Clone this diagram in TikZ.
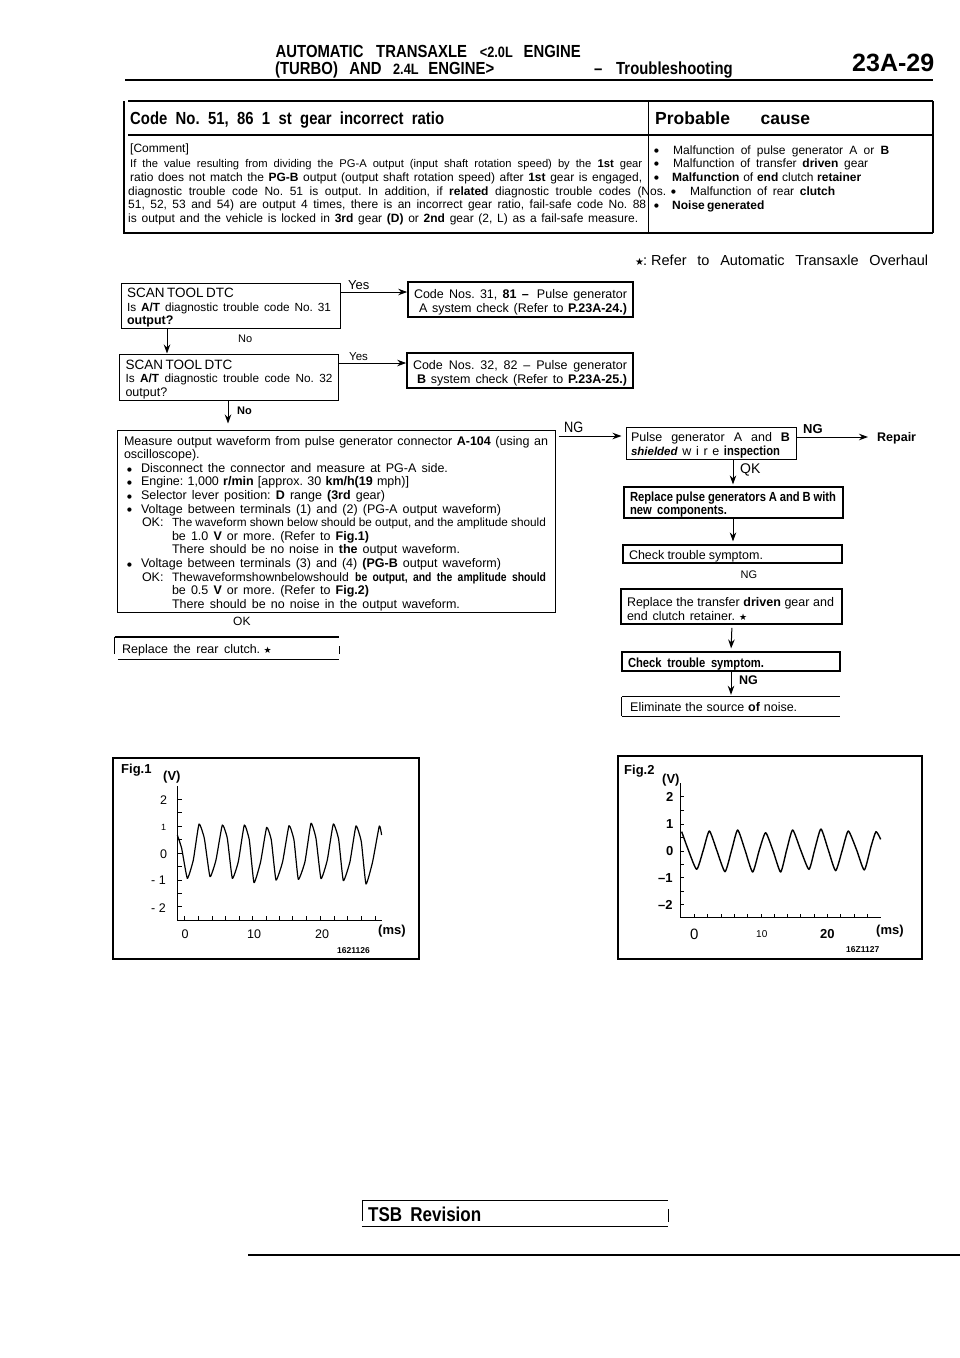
\documentclass[tikz,border=0pt]{standalone}
\usepackage{fontspec}
\usepackage{tikz}
\setmainfont{Liberation Sans}
\newfontfamily\narrowfont[FakeStretch=0.85]{Liberation Sans}
\newfontfamily\symbfont{DejaVu Sans}
\usetikzlibrary{arrows.meta, positioning}
\newcommand{\fitline}[2]{\makebox[#1pt][s]{\frenchspacing\spaceskip=0pt\xspaceskip=0pt #2}}
\newcommand{\bigdot}{\raisebox{1.2pt}{\symbfont\fontsize{5.5}{5.5}\selectfont ●}}
\newcommand{\bulline}[2]{\hspace*{3pt}\makebox[14pt][l]{\bigdot}\fitline{#1}{#2}}
\newcommand{\staricon}{{\symbfont\fontsize{9}{9}\selectfont ★}}
\newcommand{\smallbody}{\fontsize{11.8}{13.6}\selectfont}
\newcommand{\largebody}{\fontsize{13.5}{13.6}\selectfont}
\newcommand{\narrowbold}{\narrowfont\bfseries\fontsize{13.2}{13.6}\selectfont}

\begin{document}
\begin{tikzpicture}[
    x=1pt, y=-1pt,
    box/.style={draw, line width=1pt, inner xsep=6pt, inner ysep=0pt, align=left, font=\fontsize{12.5}{13.6}\selectfont, execute at begin node={\rule{0pt}{14pt}}},
    heavybox/.style={box, line width=1.6pt},
    txt/.style={anchor=base west, inner sep=0pt, font=\fontsize{12.5}{13.6}\selectfont},
    cmt/.style={anchor=base west, inner sep=0pt, font=\fontsize{12}{13}\selectfont},
    head/.style={anchor=base west, inner sep=0pt, font=\narrowfont\bfseries\fontsize{17.5}{17.5}\selectfont},
    arrow/.style={-{Stealth[length=9pt,width=6.5pt]}, line width=1pt},
    rule/.style={line width=1.4pt}
]
    \useasboundingbox (0,0) rectangle (960,1358);

    % Page header
    \node[head] (headone) at (275.5,57) {\fitline{305}{AUTOMATIC TRANSAXLE \fontsize{15}{15}\selectfont <2.0L \fontsize{17.5}{17.5}\selectfont ENGINE}};
    \node[head] (headtwo) at (275,74) {\fitline{219}{(TURBO) AND \fontsize{15}{15}\selectfont 2.4L \fontsize{17.5}{17.5}\selectfont ENGINE>}};
    \node[head] (headdash) at (594,74) {–};
    \node[head] (headsec) at (616,74) {\fitline{115}{Troubleshooting}};
    \node[anchor=base west, inner sep=0pt, font=\bfseries\fontsize{25}{25}\selectfont] (pageno) at (852,71) {23A-29};
    \draw[line width=2.4pt] (125,80) -- (933,80);

    % Code table
    \draw[rule] (128,101) -- (933,101) (124,101) -- (124,233) (123,233) -- (933,233) (933,101) -- (933,233);
    \draw[rule] (128,135) -- (934,135);
    \draw[line width=1pt] (648,101) -- (648,233);
    \node[head] (codetitle) at (130,124) {\fitline{314}{Code No. 51, 86 1 st gear incorrect ratio}};
    \node[head, font=\bfseries\fontsize{17.5}{17.5}\selectfont] (probtitle) at (655,124) {\fitline{155}{Probable\hspace{10pt} cause}};

    % Comment text
    \node[cmt] (cmtzero) at (130,152) {[Comment]};
    \node[cmt, font=\fontsize{11.2}{13}\selectfont] (cmtone) at (130,167) {\fitline{512}{If the value resulting from dividing the PG-A output (input shaft rotation speed) by the \textbf{1st} gear}};
    \node[cmt] (cmttwo) at (130,181) {\fitline{512}{ratio does not match the \textbf{PG-B} output (output shaft rotation speed) after \textbf{1st} gear is engaged,}};
    \node[cmt] (cmtthree) at (128,195) {\fitline{538}{diagnostic trouble code No. 51 is output. In addition, if \textbf{related} diagnostic trouble codes (Nos.}};
    \node[cmt] (cmtfour) at (128,208.5) {\fitline{518}{51, 52, 53 and 54) are output 4 times, there is an incorrect gear ratio, fail-safe code No. 88}};
    \node[cmt] (cmtfive) at (128,222.5) {\fitline{510}{is output and the vehicle is locked in \textbf{3rd} gear \textbf{(D)} or \textbf{2nd} gear (2, L) as a fail-safe measure.}};

    % Probable causes
    \node[cmt] (dotone) at (654,154) {\bigdot};
    \node[cmt] (causeone) at (673,154) {\fitline{216}{Malfunction of pulse generator A or \textbf{B}}};
    \node[cmt] (dottwo) at (654,167) {\bigdot};
    \node[cmt] (causetwo) at (673,167) {\fitline{195}{Malfunction of transfer \textbf{driven} gear}};
    \node[cmt] (dotthree) at (654,181) {\bigdot};
    \node[cmt] (causethree) at (672,181) {\fitline{189}{\textbf{Malfunction} of \textbf{end} clutch \textbf{retainer}}};
    \node[cmt] (dotfour) at (671,195) {\bigdot};
    \node[cmt] (causefour) at (690,195) {\fitline{145}{Malfunction of rear \textbf{clutch}}};
    \node[cmt] (dotfive) at (654,209) {\bigdot};
    \node[cmt] (causefive) at (672,209) {\fitline{92}{\textbf{Noise generated}}};

    % Overhaul note
    \node[txt, font=\symbfont\fontsize{10}{10}\selectfont] (notestar) at (635,265) {★};
    \node[txt, font=\fontsize{14.5}{15}\selectfont] (notecolon) at (643,265) {:};
    \node[txt, font=\fontsize{14.5}{15}\selectfont] (note) at (651,265) {\fitline{277}{Refer to Automatic Transaxle Overhaul}};

    % Left column boxes
    \node[box, text width=207pt, minimum height=45pt] (dtcone) at (230.5,305.5) {\fitline{105}{\largebody SCAN TOOL DTC}\\\fitline{204}{\smallbody Is \textbf{A/T} diagnostic trouble code No. 31}\\\textbf{output?}};
    \node[box, text width=207pt, minimum height=46pt] (dtctwo) at (229,377) {\fitline{105}{\largebody SCAN TOOL DTC}\\\fitline{207}{\smallbody Is \textbf{A/T} diagnostic trouble code No. 32}\\output?};
    \node[heavybox, text width=213pt, minimum height=35pt] (codeone) at (520.5,299.5) {\fitline{213}{Code Nos. 31, \textbf{81} \textbf{–}\hspace{3pt} Pulse generator}\\\hspace*{5pt}\fitline{208}{A system check (Refer to \textbf{P.23A-24.)}}};
    \node[heavybox, text width=214pt, minimum height=35pt] (codetwo) at (520,370.5) {\fitline{214}{Code Nos. 32, 82 – Pulse generator}\\\hspace*{4pt}\fitline{210}{\textbf{B} system check (Refer to \textbf{P.23A-25.)}}};
    \node[box, text width=424pt, minimum height=182pt, inner xsep=7pt] (main) at (336,521) {%
        \fitline{424}{Measure output waveform from pulse generator connector \textbf{A-104} (using an}\\
        oscilloscope).\\
        \bulline{307}{Disconnect the connector and measure at PG-A side.}\\
        \bulline{268}{Engine: 1,000 \textbf{r/min} [approx. 30 \textbf{km/h(19} mph)]}\\
        \bulline{244}{Selector lever position: \textbf{D} range \textbf{(3rd} gear)}\\
        \bulline{360}{Voltage between terminals (1) and (2) (PG-A output waveform)}\\
        \hspace*{18pt}\makebox[30pt][l]{OK:}\fitline{374}{\smallbody The waveform shown below should be output, and the amplitude should}\\
        \hspace*{48pt}\fitline{197}{be 1.0 \textbf{V} or more. (Refer to \textbf{Fig.1)}}\\
        \hspace*{48pt}\fitline{288}{There should be no noise in \textbf{the} output waveform.}\\
        \bulline{360}{Voltage between terminals (3) and (4) \textbf{(PG-B} output waveform)}\\
        \hspace*{18pt}\makebox[30pt][l]{OK:}\fitline{374}{\fontsize{12.2}{13.6}\selectfont Thewaveformshownbelowshould \textbf{\narrowfont be output, and the amplitude should}}\\
        \hspace*{48pt}\fitline{197}{be 0.5 \textbf{V} or more. (Refer to \textbf{Fig.2)}}\\
        \hspace*{48pt}\fitline{288}{There should be no noise in the output waveform.}};
    \node[inner sep=0pt, minimum width=224pt, minimum height=22pt] (rearclutch) at (227,648) {};
    \node[txt] (rearclutchtxt) at (122,653.5) {\fitline{138}{Replace the rear clutch.} \staricon};
    \draw[rule] (rearclutch.north west) -- (rearclutch.north east);
    \draw[rule] ([xshift=3pt]rearclutch.south west) -- (rearclutch.south east);
    \draw[line width=1pt] (rearclutch.north west) -- ([yshift=5pt]rearclutch.south west);
    \draw[line width=0.6pt] ([yshift=5pt]rearclutch.south east) -- ([yshift=13pt]rearclutch.south east);

    % Right column boxes
    \node[box, text width=160pt, minimum height=32pt, inner xsep=5pt] (pulse) at (711,443) {\fitline{159}{Pulse generator A and \textbf{B}}\\\fitline{149}{\textbf{\textit{\fontsize{11.5}{13}\selectfont shielded}} w i r e \narrowbold inspection}};
    \node[heavybox, text width=207pt, minimum height=31pt, line width=1.2pt] (replacepg) at (733.5,502.5) {\fitline{206}{\narrowbold Replace pulse generators A and B with}\\\fitline{97}{\narrowbold new components.}};
    \node[box, text width=207pt, minimum height=18pt, line width=1.2pt, inner xsep=6pt] (checkone) at (732.5,554) {\fitline{134}{Check trouble symptom.}};
    \node[heavybox, text width=209pt, minimum height=35pt, execute at begin node={}] (replacegear) at (731.5,606.5) {\fitline{207}{Replace the transfer \textbf{driven} gear and}\\\fitline{108}{end clutch retainer.} \staricon};
    \node[box, text width=206pt, minimum height=19pt, line width=1.2pt] (checktwo) at (731,661.5) {\fitline{136}{\narrowbold Check trouble symptom.}};
    \node[inner sep=0pt, minimum width=218pt, minimum height=19pt] (elim) at (731,706.5) {};
    \node[txt] (elimtxt) at (630,711.5) {\fitline{167}{Eliminate the source \textbf{of} noise.}};
    \draw[line width=1pt] (elim.north west) -- (elim.north east);
    \draw[line width=1pt] (elim.south west) -- (elim.south east);
    \draw[line width=0.8pt] (elim.north west) -- (elim.south west);
    \node[txt, font=\bfseries\fontsize{12.5}{13}\selectfont] (repair) at (877,441.5) {Repair};

    % Arrows
    \draw[arrow] ([yshift=13.5pt]dtcone.east) -- ([yshift=13.5pt]dtcone.east -| codeone.west);
    \draw[arrow] ([yshift=14pt]dtctwo.east) -- ([yshift=14pt]dtctwo.east -| codetwo.west);
    \draw[arrow] ([xshift=-63.5pt]dtcone.south) -- ([xshift=-62pt]dtctwo.north);
    \draw[arrow, shorten >=6pt] ([xshift=-1pt]dtctwo.south) -- ([xshift=-108pt]main.north);
    \draw[arrow, shorten <=3pt, shorten >=4pt] ([yshift=85pt]main.east) -- ([yshift=85pt]main.east -| pulse.west);
    \draw[arrow] ([yshift=6pt]pulse.east) -- ([yshift=6pt,xshift=-9pt]pulse.east -| repair.west);
    \draw[arrow, shorten >=2pt] ([xshift=22pt]pulse.south) -- ([xshift=-0.5pt]replacepg.north);
    \draw[arrow, shorten >=3pt] ([xshift=-0.5pt]replacepg.south) -- ([xshift=0.5pt]checkone.north);
    \draw[arrow, shorten <=3pt, shorten >=3pt] ([xshift=0.5pt]replacegear.south) -- (checktwo.north);
    \draw[arrow, shorten >=2pt] (checktwo.south) -- (elim.north);

    % Arrow labels
    \node[txt, font=\fontsize{13}{13}\selectfont] (yesone) at (348,289) {Yes};
    \node[txt, font=\fontsize{11.5}{11.5}\selectfont] (yestwo) at (349,360.5) {Yes};
    \node[txt, font=\fontsize{11}{11}\selectfont] (noone) at (238,342) {No};
    \node[txt, font=\bfseries\fontsize{11}{11}\selectfont] (notwo) at (237,414) {No};
    \node[txt, font=\narrowfont\fontsize{15}{15}\selectfont] (ngmain) at (564,432) {NG};
    \node[txt, font=\bfseries\fontsize{13}{13}\selectfont] (ngrepair) at (803,433) {NG};
    \node[txt, font=\fontsize{14}{14}\selectfont] (okpulse) at (740,473) {QK};
    \node[txt, font=\fontsize{11}{11}\selectfont] (ngcheck) at (740.5,578) {NG};
    \node[txt, font=\bfseries\fontsize{12.5}{13}\selectfont] (ngelim) at (739,684.5) {NG};
    \node[txt, font=\fontsize{12}{12}\selectfont] (okmain) at (233,625.5) {OK};

    % Fig.1
    \draw[line width=1.2pt] (113,758) -- (419,758) -- (419,959) -- (113,959) -- cycle;
    \node[txt, font=\bfseries\fontsize{13}{13}\selectfont] (figone) at (121,773) {Fig.1};
    \node[txt, font=\bfseries\fontsize{13}{13}\selectfont] (voltone) at (163,780) {(V)};
    \node[txt] (vonetwo) at (160,804) {2};
    \node[txt, font=\fontsize{9}{9}\selectfont] (voneone) at (161,830) {1};
    \node[txt] (vonezero) at (160,858) {0};
    \node[txt] (vonemone) at (151,884.5) {- 1};
    \node[txt] (vonemtwo) at (151,912) {- 2};
    \node[txt] (tonezero) at (181.5,938) {0};
    \node[txt] (toneten) at (247,938) {10};
    \node[txt] (tonetwenty) at (315,938) {20};
    \node[txt, font=\bfseries\fontsize{13}{13}\selectfont] (msone) at (378,934) {(ms)};
    \node[txt, font=\bfseries\fontsize{8.5}{9}\selectfont] (idone) at (337,953) {1621126};
    \begin{scope}[shift={(100,750)}, x=0.3333pt, y=-0.3333pt]
        \draw[line width=0.9pt] (232,108) -- (232,510) -- (845,510);
        \draw[line width=0.8pt] (232,148) -- (245,148) (232,188) -- (245,188) (232,229) -- (245,229) (232,269) -- (245,269) (232,310) -- (245,310) (232,350) -- (245,350) (232,390) -- (245,390) (232,430) -- (245,430) (232,470) -- (245,470);
        \draw[line width=0.8pt] (254,510) -- (254,498) (295,510) -- (295,498) (336,510) -- (336,498) (377,510) -- (377,498) (418,510) -- (418,498) (458,510) -- (458,498) (498,510) -- (498,498) (538,510) -- (538,498) (578,510) -- (578,498) (620,510) -- (620,498) (661,510) -- (661,498) (702,510) -- (702,498) (743,510) -- (743,498) (784,510) -- (784,498) (825,510) -- (825,498);
        \draw[line width=1.2pt, line join=round] plot[smooth, tension=0.25] coordinates {(232,255) (245,295) (262,385) (280,330) (297,222) (313,265) (330,380) (348,330) (367,225) (382,265) (397,385) (415,335) (433,225) (448,270) (462,398) (482,335) (500,232) (514,270) (528,390) (548,335) (567,227) (582,270) (595,388) (615,335) (633,220) (648,265) (663,386) (682,330) (700,222) (716,268) (730,392) (750,335) (768,228) (784,275) (798,402) (818,335) (838,228) (845,255)};
    \end{scope}

    % Fig.2
    \draw[line width=1.4pt] (618,756) -- (922,756) -- (922,959) -- (618,959) -- cycle;
    \node[txt, font=\bfseries\fontsize{13}{13}\selectfont] (figtwo) at (624,774) {Fig.2};
    \node[txt, font=\bfseries\fontsize{13}{13}\selectfont] (volttwo) at (662,783) {(V)};
    \node[txt, font=\bfseries\fontsize{13}{13}\selectfont] (vtwotwo) at (666,801) {2};
    \node[txt, font=\bfseries\fontsize{13}{13}\selectfont] (vtwoone) at (666,828) {1};
    \node[txt, font=\bfseries\fontsize{13}{13}\selectfont] (vtwozero) at (666,855) {0};
    \node[txt, font=\bfseries\fontsize{13}{13}\selectfont] (vtwomone) at (658,882) {–1};
    \node[txt, font=\bfseries\fontsize{13}{13}\selectfont] (vtwomtwo) at (658,909) {–2};
    \node[txt, font=\fontsize{15}{15}\selectfont] (ttwozero) at (690,939) {0};
    \node[txt, font=\fontsize{10}{10}\selectfont] (ttwoten) at (756,937) {10};
    \node[txt, font=\bfseries\fontsize{13}{13}\selectfont] (ttwotwenty) at (820,938) {20};
    \node[txt, font=\bfseries\fontsize{13}{13}\selectfont] (mstwo) at (876,934) {(ms)};
    \node[txt, font=\bfseries\fontsize{8.5}{9}\selectfont] (idtwo) at (846,952) {16Z1127};
    \begin{scope}[shift={(610,750)}, x=0.3333pt, y=-0.3333pt]
        \draw[line width=0.9pt] (212,100) -- (212,503) -- (812,503);
        \draw[line width=0.8pt] (212,140) -- (222,140) (212,181) -- (222,181) (212,222) -- (222,222) (212,262) -- (222,262) (212,303) -- (222,303) (212,343) -- (222,343) (212,383) -- (222,383) (212,423) -- (222,423) (212,463) -- (222,463);
        \draw[line width=0.8pt] (252,503) -- (252,492) (293,503) -- (293,492) (333,503) -- (333,492) (373,503) -- (373,492) (413,503) -- (413,492) (453,503) -- (453,492) (493,503) -- (493,492) (532,503) -- (532,492) (572,503) -- (572,492) (612,503) -- (612,492) (652,503) -- (652,492) (692,503) -- (692,492) (733,503) -- (733,492) (773,503) -- (773,492);
        \draw[line width=1.4pt, line join=round] plot[smooth, tension=0.35] coordinates {(215,245) (235,300) (260,358) (280,300) (298,243) (320,300) (345,365) (365,300) (383,240) (405,300) (428,366) (448,300) (467,248) (490,305) (512,366) (530,300) (548,240) (572,300) (597,358) (615,295) (633,237) (655,300) (677,362) (697,300) (715,243) (740,300) (763,360) (783,290) (798,245) (812,268)};
    \end{scope}

    % Footer
    \node[inner sep=0pt, minimum width=306pt, minimum height=25pt] (tsb) at (515,1213.5) {};
    \node[head, font=\narrowfont\bfseries\fontsize{20}{20}\selectfont] (tsbtxt) at (368,1221) {\fitline{113}{TSB Revision}};
    \draw[line width=1pt] (tsb.north west) -- (tsb.north east);
    \draw[rule] (tsb.south west) -- (tsb.south east);
    \draw[line width=0.6pt] (tsb.north west) -- ([yshift=5pt]tsb.south west);
    \draw[line width=0.6pt] ([yshift=4pt]tsb.south east) -- ([yshift=17pt]tsb.south east);
    \draw[line width=1.2pt] (248,1255) -- (960,1255);
\end{tikzpicture}
\end{document}
